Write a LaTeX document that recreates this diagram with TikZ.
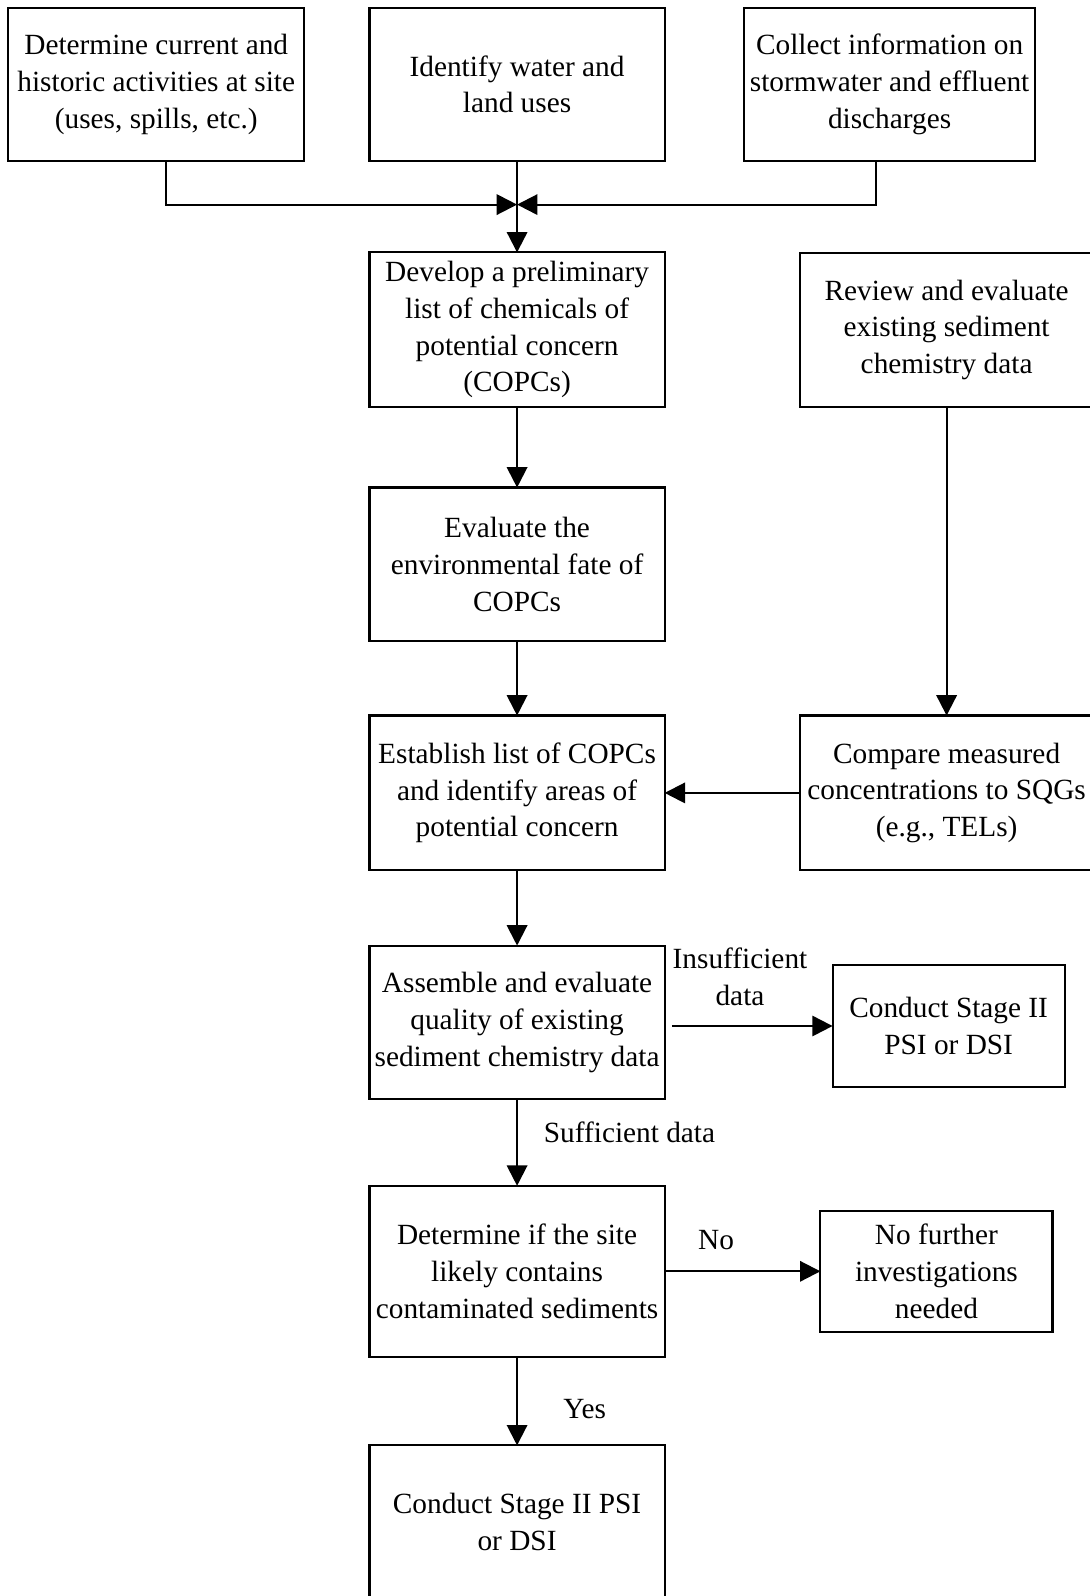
\documentclass[tikz,border=0pt]{standalone}
\usepackage{fontspec}
\setmainfont{Liberation Serif}
\usetikzlibrary{positioning}
\usetikzlibrary{calc}
\usetikzlibrary{arrows.meta}

\begin{document}
\begin{tikzpicture}[
                x=1pt, y=-1pt,
                line width=2.1pt,
                >={Triangle[length=20pt,width=20pt]},
                font=\fontsize{28.8pt}{36pt}\selectfont,
                squarednode/.style={rectangle, draw, minimum width=290pt, minimum height=151pt, align=center, inner sep=2pt, outer sep=0pt},
                smallsquarednode/.style={squarednode, minimum width=228pt, minimum height=120pt},
                ]
                \useasboundingbox (0,0) rectangle (1070,1568);

                \node[squarednode, minimum width=291pt, minimum height=150pt] (A) at (153.5,83) {Determine current and\\historic activities at site\\(uses, spills, etc.)};
                \node[squarednode, minimum height=150pt, right=64pt of A] (B) {Identify water and\\land uses};
                \node[squarednode, minimum width=286pt, minimum height=150pt, right=78pt of B] (C) {Collect information on\\stormwater and effluent\\discharges};

                \node[squarednode, minimum height=152pt, below=90pt of B] (D) {Develop a preliminary\\list of chemicals of\\potential concern\\(COPCs)};
                \node[squarednode, below=79pt of D] (E) {Evaluate the\\environmental fate of\\COPCs};
                \node[squarednode, minimum height=152pt, below=73pt of E] (F) {Establish list of COPCs\\and identify areas of\\potential concern};
                \node[squarednode, below=74pt of F] (G) {Assemble and evaluate\\quality of existing\\sediment chemistry data};
                \node[squarednode, minimum height=168pt, below=85pt of G] (H) {Determine if the site\\likely contains\\contaminated sediments};
                \node[squarednode, minimum height=150pt, below=87pt of H] (K) {Conduct Stage II PSI\\or DSI};

                \node[squarednode, minimum width=288pt, right=133pt of D] (RD) {Review and evaluate\\existing sediment\\chemistry data};
                \node[squarednode, minimum width=288pt, minimum height=152pt, right=133pt of F] (RF) {Compare measured\\concentrations to SQGs\\(e.g., TELs)};
                \node[smallsquarednode, right=165pt of G, yshift=-3.5pt] (SG) {Conduct Stage II\\PSI or DSI};
                \node[smallsquarednode, minimum height=119pt, right=153pt of H] (NH) {No further\\investigations\\needed};

                \coordinate[below=43pt of B.south] (M);

                % top row joins
                \draw[->] ([xshift=9.5pt]A.south) |- (M);
                \draw[->] ([xshift=-13pt]C.south) |- (M);
                \draw[->] (B.south) -- (D.north);

                % main column
                \draw[->] (D.south) -- (E.north);
                \draw[->] (E.south) -- (F.north);
                \draw[->] (F.south) -- (G.north);
                \draw[->] (G.south) -- node[midway, right=22pt, yshift=10.5pt] {Sufficient data} (H.north);
                \draw[->] (H.south) -- node[midway, right=41pt, yshift=-8pt] {Yes} (K.north);

                % right side
                \draw[->] (RD.south) -- (RF.north);
                \draw[->] (RF.west) -- (F.east);
                \draw[->] ($(SG.west -| G.east)+(7,0)$) -- node[midway, above=15.7pt, xshift=-12pt, align=center] {Insufficient\\data} (SG.west);
                \draw[->] (H.east) -- node[pos=0.33, above=17pt] {No} (NH.west);
            \end{tikzpicture}
\end{document}
